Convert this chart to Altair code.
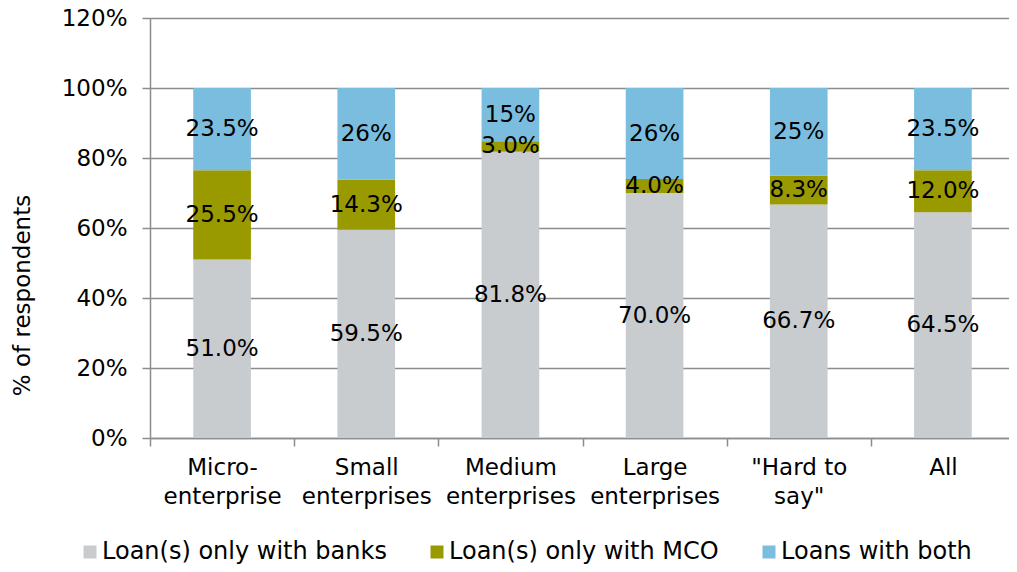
import altair as alt
import pandas as pd

categories = ["Micro-\nenterprise", "Small\nenterprises", "Medium\nenterprises",
              "Large\nenterprises", "\"Hard to\nsay\"", "All"]
series = ["Loan(s) only with banks", "Loan(s) only with MCO", "Loans with both"]
colors = ["#C9CCCF", "#999900", "#7BBDDE"]

banks = [51.0, 59.5, 81.8, 70.0, 66.7, 64.5]
mco = [25.5, 14.3, 3.0, 4.0, 8.3, 12.0]
both = [23.5, 26.2, 15.2, 26.0, 25.0, 23.5]

banks_labels = ["51.0%", "59.5%", "81.8%", "70.0%", "66.7%", "64.5%"]
mco_labels = ["25.5%", "14.3%", "3.0%", "4.0%", "8.3%", "12.0%"]
both_labels = ["23.5%", "26%", "15%", "26%", "25%", "23.5%"]

y_ticks = [0, 20, 40, 60, 80, 100, 120]

rows = []
for i, c in enumerate(categories):
    for j, (s, vals, labs) in enumerate(zip(series, [banks, mco, both],
                                            [banks_labels, mco_labels, both_labels])):
        rows.append(dict(cat=c, series=s, order=j, value=vals[i], label=labs[i]))
df = pd.DataFrame(rows)

FONT = "DejaVu Sans"
FS = 23
AXIS_GRAY = "#8C8C8C"

base = alt.Chart(df).transform_stack(
    stack="value", groupby=["cat"], sort=[alt.SortField("order")], as_=["y0", "y1"]
).transform_calculate(mid="(datum.y0 + datum.y1) / 2")

xscale = alt.Scale(paddingInner=0, paddingOuter=0)

xenc = alt.X(
    "cat:N", sort=categories, title=None, scale=xscale,
    axis=alt.Axis(
        labelAngle=0, labelExpr="split(datum.label, '\\n')", tickBand="extent",
        labelFont=FONT, labelFontSize=FS, labelColor="black", labelLineHeight=29,
        labelPadding=10, labelLimit=0, tickSize=8, tickColor=AXIS_GRAY,
        domainColor=AXIS_GRAY, domainWidth=1.5, tickWidth=1.5, grid=False,
    ),
)

yscale = alt.Scale(domain=[0, 120], nice=False)

bars = base.mark_bar(width=alt.RelativeBandSize(0.4)).encode(
    x=xenc,
    y=alt.Y(
        "y0:Q", scale=yscale,
        axis=alt.Axis(
            values=y_ticks, labelExpr="datum.value + '%'", title="% of respondents",
            labelFont=FONT, labelFontSize=FS, labelColor="black", labelPadding=15,
            tickSize=8, tickColor=AXIS_GRAY, tickWidth=1.5,
            domainColor=AXIS_GRAY, domainWidth=1.5,
            grid=True, gridColor=AXIS_GRAY, gridWidth=1.5,
            titleFont=FONT, titleFontSize=FS, titleFontWeight="normal", titleColor="black",
            titleX=-121, titleY=277, titleAngle=270, titleAlign="center",
            titleBaseline="alphabetic",
        ),
    ),
    y2="y1:Q",
    color=alt.Color(
        "series:N", scale=alt.Scale(domain=series, range=colors),
        legend=alt.Legend(
            title=None, orient="none", direction="horizontal", legendX=-72, legendY=522,
            symbolType="square", symbolSize=169, symbolStrokeWidth=0,
            labelFont=FONT, labelFontSize=24, labelColor="black", labelOffset=0,
            columnPadding=38, padding=0, labelLimit=0,
        ),
    ),
)

text = base.mark_text(font=FONT, fontSize=FS, color="black", baseline="middle").encode(
    x=alt.X("cat:N", sort=categories, scale=xscale),
    y=alt.Y("mid:Q", scale=yscale),
    text="label:N",
)

chart = alt.layer(bars, text).properties(
    width=865, height=420,
    autosize=alt.AutoSizeParams(type="none"),
    padding={"left": 142, "top": 10, "right": -6, "bottom": 126},
).configure_view(stroke=None)

chart.save("out.html", embed_options={"renderer": "svg", "actions": False})
